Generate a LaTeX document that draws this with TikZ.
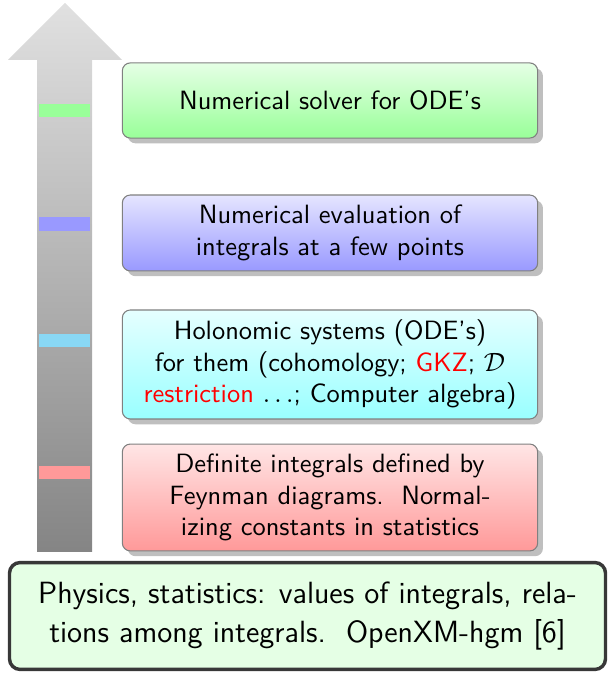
\documentclass[tikz,border=0pt]{standalone}
\usepackage{amsmath, amssymb}
\usepackage{tikz}
\usetikzlibrary{shadows}
\usetikzlibrary{positioning}
\usepackage{xcolor}

\definecolor{markgreen}{RGB}{153,255,153}
\definecolor{markblue}{RGB}{153,153,255}
\definecolor{markcyan}{RGB}{137,216,245}
\definecolor{markred}{RGB}{255,153,153}

\begin{document}
\begin{tikzpicture}[x=0.378pt, y=0.378pt,
		lvl/.style = {rectangle, rounded corners=3pt, draw=black!50, line width=0.4pt, minimum width=157pt, align=center, font=\sffamily, drop shadow={shadow xshift=2pt, shadow yshift=-2pt, fill=black!25, opacity=1}},
		mk/.style = {draw=none}
		]
		\useasboundingbox (0,0) rectangle (609,674);
		
		%Arrow
		\shade[top color=black!12, bottom color=black!48]
			(37,122) -- (37,614) -- (8,614) -- (65,671) -- (122,614) -- (92,614) -- (92,122) -- cycle;
		
		%Marks
		\fill[markgreen]	(39,557)	rectangle	(90,570);
		\fill[markblue]		(39,443)	rectangle	(90,457);
		\fill[markcyan]		(39,327)	rectangle	(90,340);
		\fill[markred]		(39,195)	rectangle	(90,208);
		
		%Nodes
		\node[lvl, minimum height=28.4pt, top color=green!10, bottom color=green!40]	(solver)	at	(330, 573.5)	{Numerical solver for ODE's};
		\node[lvl, minimum height=28.7pt, top color=blue!10, bottom color=blue!40]	(eval)	at	(330, 441)	{Numerical evaluation of\\integrals at a few points};
		\node[lvl, minimum height=41.2pt, top color=cyan!10, bottom color=cyan!40]	(holo)	at	(330, 309.5)	{Holonomic systems (ODE's)\\for them (cohomology; \textcolor{red}{GKZ}; $\mathcal{D}$\\\textcolor{red}{restriction} $\ldots$; Computer algebra)};
		\node[lvl, minimum height=40.4pt, top color=red!10, bottom color=red!40]	(integ)	at	(330, 176.5)	{Definite integrals defined by\\Feynman diagrams.\ \ Normal-\\izing constants in statistics};
		\node[rectangle, rounded corners=4pt, draw=black!78, line width=1.3pt, fill=green!10, minimum width=225.3pt, minimum height=40.4pt, align=center, font=\sffamily\fontsize{11.6}{14.6}\selectfont]	(phys)	at	(307.5, 58)	{Physics, statistics: values of integrals, rela-\\tions among integrals.\ \ OpenXM-hgm [6]};
	\end{tikzpicture}
\end{document}
